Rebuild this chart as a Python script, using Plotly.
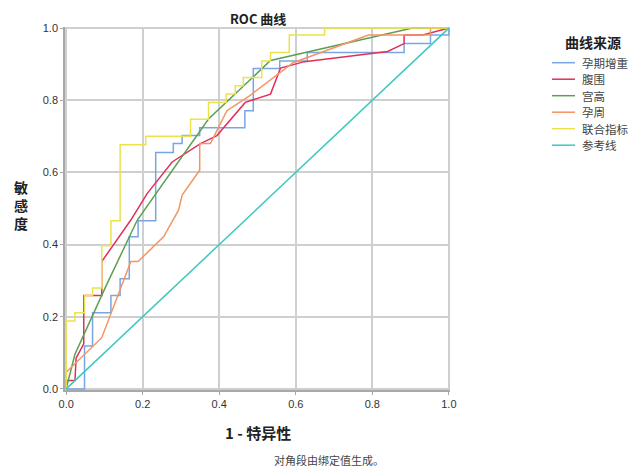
import plotly.graph_objects as go

# ROC points (1 - specificity, sensitivity)
names = ["孕期增重", "腹围", "宫高", "孕周", "联合指标", "参考线"]
colors = ["#79a6e3", "#e0305a", "#5aa052", "#f59462", "#ece24a", "#3cc8bd"]

fpr_weight = [0, 0.048, 0.048, 0.069, 0.069, 0.117, 0.117, 0.141, 0.141, 0.165, 0.165, 0.188, 0.188,
              0.234, 0.234, 0.28, 0.28, 0.303, 0.303, 0.349, 0.349, 0.467, 0.467, 0.489, 0.489, 0.558,
              0.558, 0.63, 0.63, 0.883, 0.883, 0.952, 0.952, 1, 1]
tpr_weight = [0, 0, 0.119, 0.119, 0.211, 0.211, 0.259, 0.259, 0.305, 0.305, 0.422, 0.422, 0.466,
              0.466, 0.655, 0.655, 0.68, 0.68, 0.702, 0.702, 0.724, 0.724, 0.771, 0.771, 0.888, 0.888,
              0.909, 0.909, 0.932, 0.932, 0.957, 0.957, 0.981, 0.981, 1]

fpr_waist = [0, 0, 0.023, 0.026, 0.046, 0.046, 0.093, 0.093, 0.169, 0.212, 0.277, 0.351, 0.394,
             0.468, 0.534, 0.56, 0.623, 0.84, 0.883, 0.883, 0.932, 1]
tpr_waist = [0, 0.023, 0.023, 0.085, 0.125, 0.259, 0.259, 0.353, 0.468, 0.542, 0.629, 0.68, 0.702,
             0.794, 0.817, 0.889, 0.907, 0.935, 0.957, 0.981, 0.981, 1]

fpr_fundal = [0, 0.023, 0.104, 0.186, 0.372, 0.534, 0.905, 1]
tpr_fundal = [0, 0.096, 0.285, 0.468, 0.748, 0.91, 1, 1]

fpr_ga = [0, 0, 0.093, 0.169, 0.188, 0.255, 0.294, 0.303, 0.349, 0.349, 0.377, 0.42, 0.48, 0.593,
          0.79, 0.952, 0.952, 1]
tpr_ga = [0, 0.046, 0.142, 0.353, 0.353, 0.422, 0.496, 0.537, 0.606, 0.68, 0.68, 0.771, 0.813,
          0.904, 0.981, 0.981, 1, 1]

fpr_comb = [0, 0, 0.023, 0.023, 0.048, 0.048, 0.069, 0.069, 0.093, 0.093, 0.117, 0.117, 0.141, 0.141,
            0.208, 0.208, 0.325, 0.325, 0.372, 0.372, 0.418, 0.418, 0.442, 0.442, 0.463, 0.463,
            0.511, 0.511, 0.534, 0.534, 0.583, 0.583, 0.675, 0.675, 1]
tpr_comb = [0, 0.188, 0.188, 0.211, 0.211, 0.259, 0.259, 0.28, 0.28, 0.397, 0.397, 0.466, 0.466,
            0.677, 0.677, 0.70, 0.70, 0.747, 0.747, 0.794, 0.794, 0.817, 0.817, 0.840, 0.840, 0.863,
            0.863, 0.909, 0.909, 0.932, 0.932, 0.981, 0.981, 1.0, 1.0]

fpr_ref = [0, 1]
tpr_ref = [0, 1]

series_x = [fpr_weight, fpr_waist, fpr_fundal, fpr_ga, fpr_comb, fpr_ref]
series_y = [tpr_weight, tpr_waist, tpr_fundal, tpr_ga, tpr_comb, tpr_ref]

tick_vals = [0, 0.2, 0.4, 0.6, 0.8, 1.0]
tick_text = ["0.0", "0.2", "0.4", "0.6", "0.8", "1.0"]

# figure geometry (page body has an 8px margin)
W, H = 636, 461
L, R, T, B = 57, 194, 19, 79
PW, PH = W - L - R, H - T - B


def px_x(fx):
    return (fx - L) / PW


def px_y(fy):
    return (H - B - fy) / PH


fig = go.Figure()
for n, c, xs, ys in zip(names, colors, series_x, series_y):
    fig.add_trace(go.Scatter(x=xs, y=ys, mode="lines", name=n,
                             line=dict(color=c, width=1.5), showlegend=False))

cjk = "Noto Sans CJK SC"
axis_common = dict(range=[-0.003, 1.003], tickvals=tick_vals, ticktext=tick_text,
                   showgrid=True, gridcolor="#cfcfcf", gridwidth=1.5, zeroline=False,
                   showline=True, linecolor="#a8a8a8", linewidth=1.5, mirror=False,
                   ticks="outside", ticklen=3, tickcolor="#a8a8a8",
                   tickfont=dict(family="Liberation Sans, Arial", size=11, color="#333"))

annotations = [
    dict(text="<b>ROC 曲线</b>", x=0.5, y=1.0, xref="paper", yref="paper",
         xanchor="center", yanchor="middle", yshift=9, showarrow=False,
         font=dict(family=cjk, size=13, color="#222")),
    dict(text="<b>1 - 特异性</b>", x=0.5, y=0, xref="paper", yref="paper",
         xanchor="center", yanchor="top", yshift=-30, showarrow=False,
         font=dict(family=cjk, size=15, color="#222")),
    dict(text="<b>敏<br>感<br>度</b>", x=0, y=0.5, xref="paper", yref="paper",
         xanchor="center", yanchor="middle", xshift=-44, yshift=4, showarrow=False,
         font=dict(family=cjk, size=14, color="#222")),
    dict(text="对角段由绑定值生成。", x=px_x(321), y=0, xref="paper", yref="paper",
         xanchor="center", yanchor="middle", yshift=-70, showarrow=False,
         font=dict(family=cjk, size=11, color="#444")),
    dict(text="<b>曲线来源</b>", x=px_x(585), y=px_y(33.5), xref="paper", yref="paper",
         xanchor="center", yanchor="middle", showarrow=False,
         font=dict(family=cjk, size=14, color="#222")),
]

# manual legend
shapes = []
row_y0, row_dy = 54.7, 16.5
for i, (n, c) in enumerate(zip(names, colors)):
    fy = row_y0 + i * row_dy
    shapes.append(dict(type="line", xref="paper", yref="paper",
                       x0=px_x(544), x1=px_x(567), y0=px_y(fy), y1=px_y(fy),
                       line=dict(color=c, width=1.5)))
    annotations.append(dict(text=n, x=px_x(572), y=px_y(fy), xref="paper", yref="paper",
                            xanchor="left", yanchor="middle", showarrow=False,
                            font=dict(family=cjk, size=11.5, color="#444")))

fig.update_layout(
    width=W, height=H,
    margin=dict(l=L, r=R, t=T, b=B, autoexpand=False),
    paper_bgcolor="white", plot_bgcolor="white",
    showlegend=False,
    xaxis=dict(**axis_common),
    yaxis=dict(**axis_common),
    annotations=annotations,
    shapes=shapes,
)

fig.write_html("out.html")
